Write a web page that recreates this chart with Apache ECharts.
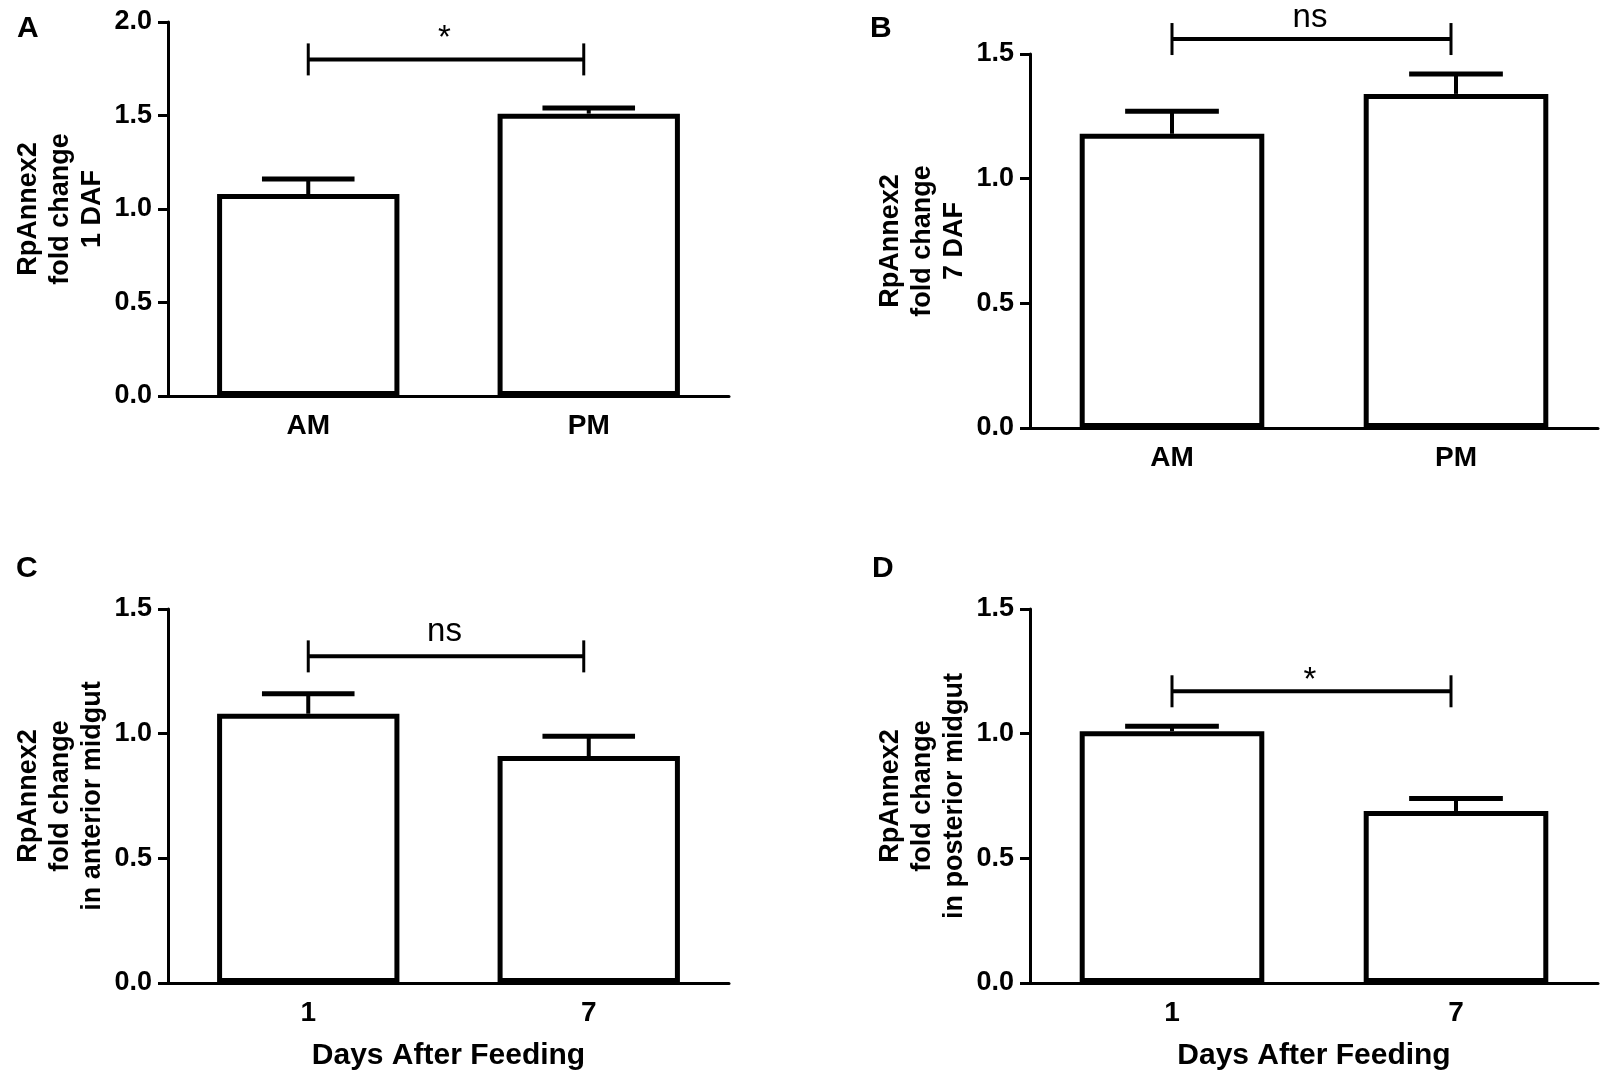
<!DOCTYPE html>
<html lang="en">
<head>
    <meta charset="UTF-8">
    <title>RpAnnex2 fold change</title>
    <script src="https://cdn.jsdelivr.net/npm/echarts@6.0.0/dist/echarts.min.js"></script>
</head>
<body>
<div id="chart" style="width: 1603px;height: 1084px"></div>
<script>
// categories
const catsTime = ['AM', 'PM']
const catsDays = ['1', '7']

// means and SEM
const meanA = [1.08, 1.51]
const semA = [0.08, 0.03]
const meanB = [1.18, 1.34]
const semB = [0.09, 0.08]
const meanC = [1.08, 0.91]
const semC = [0.08, 0.08]
const meanD = [1.01, 0.69]
const semD = [0.02, 0.05]

// significance brackets
const sigLevel = [1.80, 1.56, 1.31, 1.17]
const sigText = ['*', 'ns', 'ns', '*']

// y axes
const yMax = [2.0, 1.5, 1.5, 1.5]
const yTitles = [
    'RpAnnex2\nfold change\n1 DAF',
    'RpAnnex2\nfold change\n7 DAF',
    'RpAnnex2\nfold change\nin anterior midgut',
    'RpAnnex2\nfold change\nin posterior midgut'
]
const panelLetters = ['A', 'B', 'C', 'D']

const FONT = '"Liberation Sans", Arial, Helvetica, sans-serif'
// layout only: grid boxes, letter spots, label offset above the bracket
const panels = [
    { cats: catsTime, mean: meanA, sem: semA, grid: { left: 168, top: 22, width: 561, height: 374 }, letter: [17, 14], textGap: 20 },
    { cats: catsTime, mean: meanB, sem: semB, grid: { left: 1030, top: 54, width: 568, height: 374 }, letter: [870, 14], textGap: 21 },
    { cats: catsDays, mean: meanC, sem: semC, grid: { left: 168, top: 609, width: 561, height: 374 }, letter: [16, 554], textGap: 24 },
    { cats: catsDays, mean: meanD, sem: semD, grid: { left: 1030, top: 609, width: 568, height: 374 }, letter: [872, 554], textGap: 10 }
]

const chart = echarts.init(document.getElementById('chart'))

const grids = [], xAxes = [], yAxes = [], series = [], graphics = []

panels.forEach((p, i) => {
    grids.push(Object.assign({ containLabel: false }, p.grid))
    xAxes.push({
        type: 'category',
        gridIndex: i,
        data: p.cats,
        axisLine: { lineStyle: { color: '#000', width: 3 } },
        axisTick: { alignWithLabel: true, length: 10, lineStyle: { color: '#000', width: 3 } },
        axisLabel: { color: '#000', fontFamily: FONT, fontWeight: 'bold', fontSize: 28, margin: 16 },
        name: i >= 2 ? 'Days After Feeding' : '',
        nameLocation: 'middle',
        nameGap: 58,
        nameTextStyle: { color: '#000', fontFamily: FONT, fontWeight: 'bold', fontSize: 30 }
    })
    yAxes.push({
        type: 'value',
        gridIndex: i,
        min: 0,
        max: yMax[i],
        interval: 0.5,
        splitLine: { show: false },
        axisLine: { show: true, lineStyle: { color: '#000', width: 3 } },
        axisTick: { show: true, length: 10, lineStyle: { color: '#000', width: 3 } },
        axisLabel: { color: '#000', fontFamily: FONT, fontWeight: 'bold', fontSize: 27, margin: 16,
            formatter: v => v.toFixed(1) },
        name: yTitles[i],
        nameLocation: 'middle',
        nameRotate: 90,
        nameGap: 59,
        nameTextStyle: { color: '#000', fontFamily: FONT, fontWeight: 'bold', fontSize: 27, lineHeight: 32, align: 'center' }
    })

    series.push({
        type: 'bar',
        xAxisIndex: i,
        yAxisIndex: i,
        barWidth: '65%',
        silent: true,
        itemStyle: { color: '#fff', borderColor: '#000', borderWidth: 5 },
        data: p.mean
    })

    // error bars (upper only)
    series.push({
        type: 'custom',
        xAxisIndex: i,
        yAxisIndex: i,
        z: 3,
        silent: true,
        data: p.mean.map((m, k) => [k, m, m + p.sem[k]]),
        renderItem(params, api) {
            const base = api.coord([api.value(0), api.value(1)])
            const top = api.coord([api.value(0), api.value(2)])
            const half = api.size([1, 0])[0] * 0.165
            return {
                type: 'group',
                children: [
                    { type: 'line', shape: { x1: base[0], y1: base[1], x2: top[0], y2: top[1] }, style: { stroke: '#000', lineWidth: 4 } },
                    { type: 'line', shape: { x1: top[0] - half, y1: top[1], x2: top[0] + half, y2: top[1] }, style: { stroke: '#000', lineWidth: 5 } }
                ]
            }
        }
    })

    // significance bracket
    series.push({
        type: 'custom',
        xAxisIndex: i,
        yAxisIndex: i,
        z: 4,
        silent: true,
        data: [[0, sigLevel[i]]],
        renderItem(params, api) {
            const a = api.coord([0, api.value(1)])
            const b = api.coord([1, api.value(1)])
            const h = 16
            return {
                type: 'group',
                children: [
                    { type: 'line', shape: { x1: a[0], y1: a[1], x2: b[0] - 5, y2: b[1] }, style: { stroke: '#000', lineWidth: 4 } },
                    { type: 'line', shape: { x1: a[0], y1: a[1] - h, x2: a[0], y2: a[1] + h }, style: { stroke: '#000', lineWidth: 3 } },
                    { type: 'line', shape: { x1: b[0] - 5, y1: b[1] - h, x2: b[0] - 5, y2: b[1] + h }, style: { stroke: '#000', lineWidth: 3 } },
                    { type: 'text', style: { text: sigText[i], x: (a[0] + b[0]) / 2 - 4, y: a[1] - p.textGap,
                        fill: '#000', font: '33px ' + FONT, align: 'center', verticalAlign: 'middle' } }
                ]
            }
        }
    })

    graphics.push({
        type: 'text',
        left: p.letter[0],
        top: p.letter[1],
        style: { text: panelLetters[i], fill: '#000', font: 'bold 30px ' + FONT }
    })
})

chart.setOption({
    animation: false,
    backgroundColor: '#fff',
    grid: grids,
    xAxis: xAxes,
    yAxis: yAxes,
    series: series,
    graphic: graphics
})
</script>
<style>
    html, body {
        margin: 0;
        padding: 0;
        background: #fff;
    }
</style>
</body>
</html>
